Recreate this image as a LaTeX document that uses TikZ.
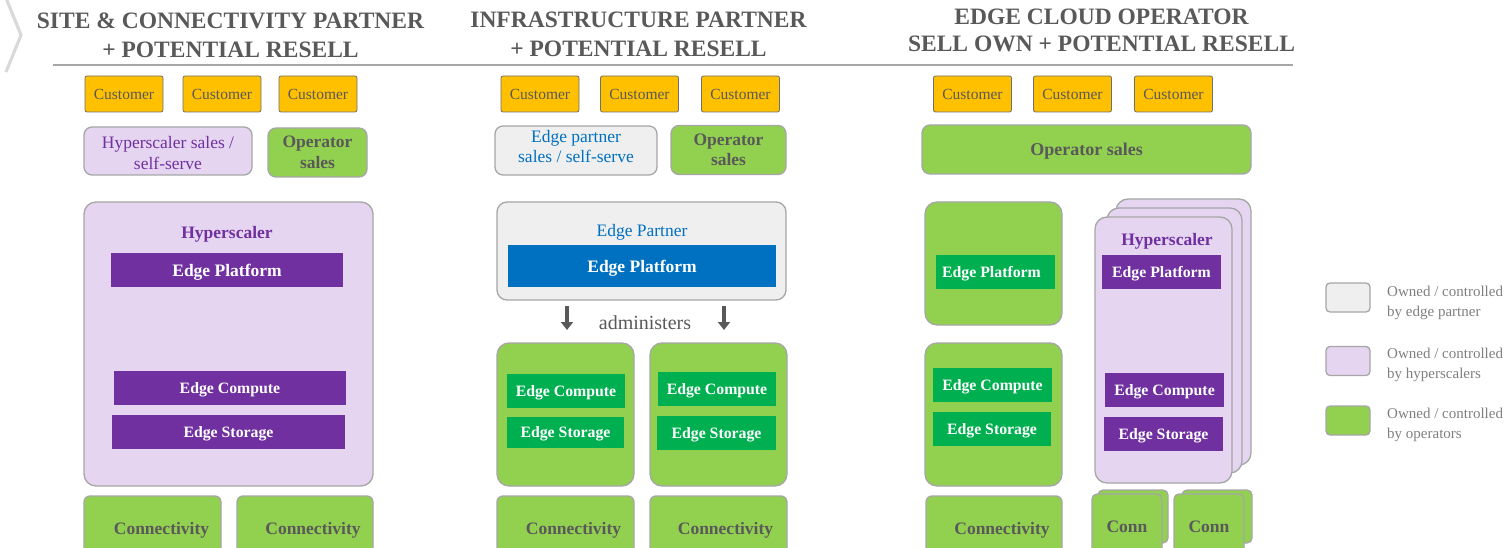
\documentclass[tikz,border=0pt]{standalone}
\usepackage{fontspec}
\setmainfont{Liberation Serif}
\usetikzlibrary{arrows.meta}
\definecolor{hgray}{HTML}{595959}
\definecolor{lgray}{HTML}{7F7F7F}
\definecolor{rule}{HTML}{A6A6A6}
\definecolor{chev}{HTML}{D9D9D9}
\definecolor{bord}{HTML}{A6A6A6}
\definecolor{custbord}{HTML}{6F6F6F}
\definecolor{orng}{HTML}{FFC000}
\definecolor{lav}{HTML}{E5D5F1}
\definecolor{purp}{HTML}{7030A0}
\definecolor{lgreen}{HTML}{92D050}
\definecolor{dgreen}{HTML}{00B050}
\definecolor{eblue}{HTML}{0070C0}
\definecolor{pgray}{HTML}{EFEFEF}
\newcommand{\fs}[1]{\fontsize{#1}{#1}\selectfont}
\tikzset{
  head/.style={align=center, text=hgray, font=\bfseries\fontsize{23.5}{29}\selectfont},
  cust/.style={draw=custbord, fill=orng, rounded corners=2pt, line width=0.8pt, text=hgray,
    font=\fs{15.5}, minimum width=78, minimum height=36, inner sep=0},
  gbox/.style={draw=bord, line width=1.3pt, fill=lgreen, text=hgray, inner sep=0, font=\bfseries\fs{17.5}},
  lbox/.style={draw=bord, line width=1.3pt, fill=lav, inner sep=0},
  pbox/.style={draw=bord, line width=1.3pt, fill=pgray, inner sep=0},
  bar/.style={text=white, inner sep=0, text depth=0pt, font=\bfseries\fs{15.8}},
  pbar/.style={bar, fill=purp},
  gbar/.style={bar, fill=dgreen},
  nodep/.style={text depth=0pt},
  arr/.style={draw=hgray, line width=3.2pt, -{Triangle[length=8pt,width=12pt]}},
  legtxt/.style={align=left, anchor=west, text=lgray, font=\fontsize{15}{20}\selectfont, inner sep=0}
}
\begin{document}
\begin{tikzpicture}[x=1pt,y=-1pt]
\useasboundingbox (0,0) rectangle (1509,548);
\clip (0,0) rectangle (1509,548);
% chevron and rule
\draw[chev, line width=3.2pt] (6,-2) -- (21,35) -- (6,72);
\coordinate (ruleL) at (53,65);
\coordinate (ruleR) at (1293,65);
\draw[rule, line width=2pt] (ruleL) -- (ruleR);
% headings
\node[head] (h1) at (230.5,35) {SITE \& CONNECTIVITY PARTNER\\+ POTENTIAL RESELL};
\node[head] (h2) at (638.5,34) {INFRASTRUCTURE PARTNER\\+ POTENTIAL RESELL};
\node[head, font=\bfseries\fontsize{23.5}{27.5}\selectfont] (h3) at (1101.5,30.5) {EDGE CLOUD OPERATOR\\SELL OWN + POTENTIAL RESELL};
% customers
\node[cust] (c1) at (124,94) {Customer};
\node[cust] (c2) at (222,94) {Customer};
\node[cust] (c3) at (318,94) {Customer};
\node[cust] (c4) at (540,94) {Customer};
\node[cust] (c5) at (639.5,94) {Customer};
\node[cust] (c6) at (740.5,94) {Customer};
\node[cust] (c7) at (972.5,94) {Customer};
\node[cust] (c8) at (1072.5,94) {Customer};
\node[cust] (c9) at (1173.5,94) {Customer};
% sales
\node[lbox, rounded corners=8pt, minimum width=168, minimum height=48] (hsales) at (168,151) {};
\node[align=center, text=purp, font=\fontsize{17.5}{21}\selectfont] (hsalest) at (168,153) {Hyperscaler sales /\\self-serve};
\node[gbox, rounded corners=8pt, minimum width=99, minimum height=49, align=center,
  font=\bfseries\fontsize{17.5}{21}\selectfont] (osales1) at (317.5,152.5) {Operator\\sales};
\node[pbox, rounded corners=8pt, minimum width=162, minimum height=49] (esales) at (576,150.5) {};
\node[align=center, text=eblue, font=\fontsize{17.5}{20}\selectfont] (esalest) at (576,147) {Edge partner\\sales / self-serve};
\node[gbox, rounded corners=8pt, minimum width=115, minimum height=49, align=center,
  font=\bfseries\fontsize{17.5}{20.5}\selectfont] (osales2) at (728.5,150) {Operator\\sales};
\node[gbox, nodep, rounded corners=8pt, minimum width=329, minimum height=49,
  font=\bfseries\fs{18}] (osales3) at (1086.5,149.5) {Operator sales};
% left: hyperscaler
\node[lbox, rounded corners=12pt, minimum width=289, minimum height=284] (hyp1) at (228.5,344) {};
\node[text=purp, font=\bfseries\fs{17.5}] (hyp1t) at (227,234.5) {Hyperscaler};
\node[pbar, minimum width=232, minimum height=34, font=\bfseries\fs{17.5}] (hp1) at (227,270) {Edge Platform};
\node[pbar, minimum width=232, minimum height=34] (hc1) at (230,388) {Edge Compute};
\node[pbar, minimum width=233, minimum height=34] (hs1) at (228.5,432) {Edge Storage};
\node[gbox, nodep, rounded corners=6pt, minimum width=137, minimum height=64] (conn1) at (152.5,528) {\hspace*{18pt}Connectivity};
\node[gbox, nodep, rounded corners=6pt, minimum width=136, minimum height=64] (conn2) at (305,528) {\hspace*{16pt}Connectivity};
% middle: edge partner
\node[pbox, rounded corners=10pt, minimum width=289, minimum height=98] (ep) at (641.5,251) {};
\node[text=eblue, font=\fs{17.5}] (ept) at (642,232.5) {Edge Partner};
\node[bar, fill=eblue, minimum width=268, minimum height=42, font=\bfseries\fs{17.5}] (epp) at (642,266) {Edge Platform};
\node[text=hgray, font=\fs{20}, inner sep=0] (adm) at (645,323) {administers};
\node[gbox, rounded corners=12pt, minimum width=137, minimum height=143] (g1) at (565.5,414.5) {};
\node[gbox, rounded corners=12pt, minimum width=137, minimum height=143] (g2) at (718.5,414.5) {};
\coordinate (a1s) at (567,306);
\coordinate (a1e) at (567,330);
\coordinate (a2s) at (724,306);
\coordinate (a2e) at (724,330);
\draw[arr] (a1s) -- (a1e);
\draw[arr] (a2s) -- (a2e);
\node[gbar, minimum width=118, minimum height=34] (gc1) at (566,391) {Edge Compute};
\node[gbar, minimum width=117, minimum height=31] (gs1) at (565.5,432.5) {Edge Storage};
\node[gbar, minimum width=118, minimum height=34] (gc2) at (717,389) {Edge Compute};
\node[gbar, minimum width=119, minimum height=34] (gs2) at (716.5,433) {Edge Storage};
\node[gbox, nodep, rounded corners=6pt, minimum width=137, minimum height=64] (conn3) at (565.5,528) {\hspace*{16pt}Connectivity};
\node[gbox, nodep, rounded corners=6pt, minimum width=137, minimum height=64] (conn4) at (718.5,528) {\hspace*{14pt}Connectivity};
% right: operator
\node[gbox, rounded corners=12pt, minimum width=137, minimum height=123] (rp) at (993.5,263.5) {};
\node[gbar, minimum width=119, minimum height=34] (rpb) at (995.5,272) {Edge Platform\hspace*{8pt}};
\node[gbox, rounded corners=12pt, minimum width=137, minimum height=143] (rc) at (993.5,414.5) {};
\node[gbar, minimum width=119, minimum height=34] (rcb) at (992.5,385) {Edge Compute};
\node[gbar, minimum width=118, minimum height=34] (rsb) at (992,429) {Edge Storage};
\node[gbox, nodep, rounded corners=6pt, minimum width=136, minimum height=64] (conn5) at (994,528) {\hspace*{16pt}Connectivity};
% right: hyperscaler stack
\node[lbox, rounded corners=12pt, minimum width=135, minimum height=266] (hyb3) at (1183.5,332) {};
\node[lbox, rounded corners=12pt, minimum width=135, minimum height=265] (hyb2) at (1174.5,340.5) {};
\node[lbox, rounded corners=12pt, minimum width=137, minimum height=266] (hy) at (1163.5,350) {};
\node[text=purp, font=\bfseries\fs{17.5}] (hyt) at (1167,241) {Hyperscaler};
\node[pbar, minimum width=119, minimum height=34] (hyp) at (1161.5,272) {Edge Platform};
\node[pbar, minimum width=119, minimum height=34] (hyc) at (1164.5,390) {Edge Compute};
\node[pbar, minimum width=119, minimum height=34] (hys) at (1163.5,434) {Edge Storage};
% conn stacks
\node[gbox, rounded corners=5pt, minimum width=70, minimum height=53] (cb1) at (1133,516.5) {};
\node[gbox, nodep, rounded corners=5pt, minimum width=70, minimum height=66] (cf1) at (1127,527) {Conn};
\node[gbox, rounded corners=5pt, minimum width=70, minimum height=53] (cb2) at (1217,516.5) {};
\node[gbox, nodep, rounded corners=5pt, minimum width=70, minimum height=66] (cf2) at (1209,527) {Conn};
% legend
\node[pbox, rounded corners=4pt, minimum width=44, minimum height=29] (l1) at (1348,297.5) {};
\node[lbox, rounded corners=4pt, minimum width=44, minimum height=29] (l2) at (1348,361) {};
\node[gbox, rounded corners=4pt, minimum width=44, minimum height=29] (l3) at (1348,420.5) {};
\node[legtxt] (l1t) at (1387,303) {Owned / controlled\\by edge partner};
\node[legtxt] (l2t) at (1387,365) {Owned / controlled\\by hyperscalers};
\node[legtxt] (l3t) at (1387,425) {Owned / controlled\\by operators};
\end{tikzpicture}
\end{document}
